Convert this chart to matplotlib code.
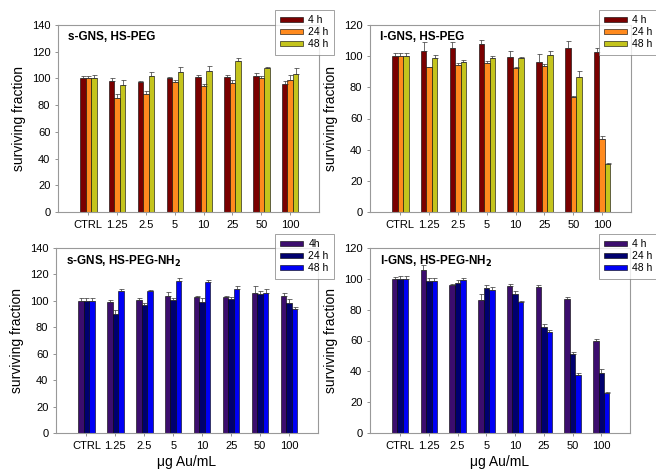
import numpy as np
import matplotlib; matplotlib.use('Agg')
import matplotlib.pyplot as plt

plt.rcParams['font.family'] = ['Liberation Sans', 'DejaVu Sans']

CATS = ['CTRL', '1.25', '2.5', '5', '10', '25', '50', '100']

# s-GNS, HS-PEG
sp_4 = [100, 98, 97, 100, 101, 101, 102, 95.5]
sp_24 = [100, 85, 88.5, 97.5, 94, 96.5, 100.5, 98.5]
sp_48 = [100, 95, 101.5, 104.5, 105.5, 113, 108, 103]
sp_4e = [2, 2, 1, 1, 1.5, 1.5, 2, 2.5]
sp_24e = [2, 3, 2, 1, 1.5, 2, 1, 4]
sp_48e = [2.5, 4, 3, 4, 4, 2.5, 0.5, 4.5]

# l-GNS, HS-PEG
lp_4 = [100, 103.5, 105.4, 107.6, 99.4, 96.4, 105, 102.9]
lp_24 = [100, 92.8, 94.3, 95.8, 92.6, 93.6, 73.7, 47]
lp_48 = [100, 99, 96.4, 98.8, 99, 100.7, 86.8, 31]
lp_4e = [2, 5.5, 3.5, 3, 4, 5, 5, 2.5]
lp_24e = [2, 0.5, 1, 1, 0.5, 1.5, 1, 2]
lp_48e = [2, 2, 1, 1.5, 0.5, 2.5, 3.5, 0.5]

# s-GNS, HS-PEG-NH2
sn_4 = [100, 99, 100.3, 103.5, 103, 103, 106, 103.5]
sn_24 = [100, 90.2, 96.8, 101, 99, 101.5, 105.3, 98.5]
sn_48 = [100, 107.3, 107.3, 114.8, 114, 109, 106, 94]
sn_4e = [2, 2, 2, 3, 1, 1, 5, 2.5]
sn_24e = [2, 3, 1.5, 1.5, 3, 1.5, 2, 3]
sn_48e = [2, 1.5, 1, 2.5, 1.5, 2.5, 3, 1]

# l-GNS, HS-PEG-NH2
ln_4 = [100, 106, 95.7, 86.2, 95.3, 94.8, 87, 59.7]
ln_24 = [100, 98.5, 97.4, 94.2, 90.3, 69, 51, 39.2]
ln_48 = [100, 98.5, 99.1, 92.7, 84.9, 65.7, 37.5, 25.9]
ln_4e = [1.5, 3, 1, 4, 1.5, 1.5, 1, 1]
ln_24e = [2, 2, 2, 1.5, 1.5, 1.5, 1.5, 2]
ln_48e = [2, 2, 1.5, 2, 1, 1, 1.5, 0.5]

WARM = ['#7a0000', '#ff8a1e', '#c4c41c']
COOL = ['#3c0d6e', '#00006e', '#0000f5']

fig = plt.figure(figsize=(6.56, 4.76), dpi=100)
W, H = 656, 476

def make_ax(x0, y0, x1, y1):
    return fig.add_axes([x0 / W, 1 - y1 / H, (x1 - x0) / W, (y1 - y0) / H])

panels = [
    (make_ax(58, 25, 319, 212), 's-GNS, HS-PEG', (sp_4, sp_24, sp_48), (sp_4e, sp_24e, sp_48e),
     WARM, ['4 h', '24 h', '48 h'], 140, (275, 10), False),
    (make_ax(370, 25, 631, 212), 'l-GNS, HS-PEG', (lp_4, lp_24, lp_48), (lp_4e, lp_24e, lp_48e),
     WARM, ['4 h', '24 h', '48 h'], 120, (599, 10), False),
    (make_ax(56, 248, 318, 433), 's-GNS, HS-PEG-NH$_\\mathbf{2}$', (sn_4, sn_24, sn_48), (sn_4e, sn_24e, sn_48e),
     COOL, ['4h', '24 h', '48 h'], 140, (275, 234), True),
    (make_ax(370, 248, 630, 433), 'l-GNS, HS-PEG-NH$_\\mathbf{2}$', (ln_4, ln_24, ln_48), (ln_4e, ln_24e, ln_48e),
     COOL, ['4 h', '24 h', '48 h'], 120, (599, 234), True),
]

x = np.arange(len(CATS))
w = 0.19
for ax, title, vals, errs, cols, labs, ymax, lpos, bottom in panels:
    handles = []
    for k in range(3):
        b = ax.bar(x + (k - 1) * w, vals[k], w, color=cols[k], edgecolor='black', linewidth=0.4,
                   yerr=[np.zeros(len(CATS)), errs[k]], capsize=1.8,
                   error_kw=dict(elinewidth=0.5, capthick=0.5, ecolor='#333333'))
        handles.append(b)
    ax.set_xlim(-1.05, 8.0)
    ax.set_ylim(0, ymax)
    ax.set_yticks(np.arange(0, ymax + 1, 20))
    ax.set_xticks(x)
    ax.set_xticklabels(CATS)
    ax.tick_params(labelsize=8, length=2.5, width=0.5, color='#666666', pad=3)
    for s in ax.spines.values():
        s.set_color('#999999')
        s.set_linewidth(0.8)
    ax.set_ylabel('surviving fraction', fontsize=10)
    ax.text(0.04, 0.97, title, transform=ax.transAxes, fontsize=8.5, fontweight='bold',
            va='top', ha='left')
    if bottom:
        ax.set_xlabel('\u03bcg Au/mL', fontsize=10, labelpad=3)
    lx0, ly0 = lpos
    leg = fig.legend(handles, labs, loc='upper left', bbox_to_anchor=(lx0 / W, 1 - ly0 / H),
                     fontsize=7.5, frameon=True, fancybox=False, edgecolor='#777777',
                     handlelength=2.2, handleheight=0.45, handletextpad=0.5, labelspacing=0.2,
                     borderpad=0.5, borderaxespad=0)
    leg.get_frame().set_linewidth(0.6)

fig.savefig('out.png', dpi=100)
